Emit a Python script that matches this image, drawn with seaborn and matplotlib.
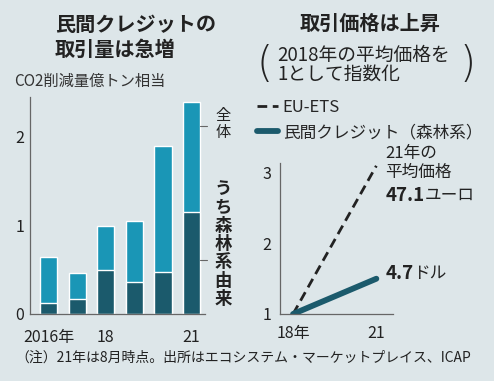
import matplotlib
matplotlib.use("Agg")
import numpy as np
import pandas as pd
import matplotlib.pyplot as plt
import seaborn as sns

# left chart: transaction volume (100 million t-CO2)
years = ["2016", "2017", "2018", "2019", "2020", "2021"]
year_labels = ["2016年", "", "18", "", "", "21"]
total = [0.64, 0.46, 0.99, 1.05, 1.89, 2.38]
forest = [0.12, 0.17, 0.50, 0.36, 0.47, 1.15]

# right chart: price index (2018 = 1)
price_years = [2018, 2021]
price_labels = ["18年", "21"]
eu_ets = [1.0, 3.1]
forest_credit = [1.0, 1.5]

bg = "#dde6e9"
light = "#1a96b6"
dark = "#1b5a6c"
ink = "#222222"
axc = "#666666"

sns.set_style("white")
plt.rcParams["font.family"] = ["Noto Sans CJK JP", "DejaVu Sans"]

fig = plt.figure(figsize=(4.94, 3.81), dpi=100, facecolor=bg)

def px(l, t, r, b):
    return [l / 494, 1 - b / 381, (r - l) / 494, (b - t) / 381]

def fx(x):
    return x / 494

def fy(y):
    return 1 - y / 381

# ---- left: stacked-look bars
ax1 = fig.add_axes(px(30, 97, 205, 314))
ax1.set_facecolor(bg)
df = pd.DataFrame({"year": years, "total": total, "forest": forest})
sns.barplot(data=df, x="year", y="total", color=light, width=0.6,
            saturation=1, errorbar=None, ax=ax1)
sns.barplot(data=df, x="year", y="forest", color=dark, width=0.6,
            saturation=1, errorbar=None, ax=ax1)
ax1.set_xlim(-0.65, 5.47)
ax1.set_ylim(0, 2.44)
ax1.set_yticks([0, 1, 2])
ax1.set_xticks(range(len(years)))
ax1.set_xticklabels(year_labels)
ax1.set_xlabel("")
ax1.set_ylabel("")
for s in ["top", "right"]:
    ax1.spines[s].set_visible(False)
for s in ["left", "bottom"]:
    ax1.spines[s].set_color(axc)
    ax1.spines[s].set_linewidth(0.9)
ax1.tick_params(axis="y", direction="in", length=5, width=0.8, color=axc,
                labelsize=11.5, labelcolor=ink, pad=4)
ax1.tick_params(axis="x", length=0, labelsize=11.5, labelcolor=ink, pad=11)

# bracket ticks for the side labels
ax1.plot([5.3, 5.55], [2.11, 2.11], color=axc, lw=0.8, clip_on=False)
ax1.plot([5.3, 5.55], [0.61, 0.61], color=axc, lw=0.8, clip_on=False)
fig.text(fx(223), fy(124), "\n".join("全体"), fontsize=11, color=ink,
         ha="center", va="center", linespacing=1.0)
fig.text(fx(223), fy(244), "\n".join("うち森林系由来"), fontsize=12.5,
         fontweight="bold", color=ink, ha="center", va="center",
         linespacing=1.02)

fig.text(fx(55), fy(24), "民間クレジットの", fontsize=14.5,
         fontweight="bold", color=ink, ha="left", va="center")
fig.text(fx(55), fy(49), "取引量は急増", fontsize=14.5,
         fontweight="bold", color=ink, ha="left", va="center")
fig.text(fx(14), fy(81), "CO2削減量億トン相当", fontsize=11,
         color="#333333", ha="left", va="center")

# ---- right: price index lines
ax2 = fig.add_axes(px(280, 163, 393, 314))
ax2.set_facecolor(bg)
sns.lineplot(x=price_years, y=eu_ets, ax=ax2, color=ink, lw=2,
             linestyle=(0, (3.5, 2)), label="EU-ETS")
sns.lineplot(x=price_years, y=forest_credit, ax=ax2, color=dark, lw=4.2,
             solid_capstyle="round", label="民間クレジット（森林系）")
ax2.set_xlim(2017.53, 2021.6)
ax2.set_ylim(1, 3.14)
ax2.set_yticks([1, 2, 3])
ax2.set_xticks(price_years)
ax2.set_xticklabels(price_labels)
for s in ["top", "right"]:
    ax2.spines[s].set_visible(False)
for s in ["left", "bottom"]:
    ax2.spines[s].set_color(axc)
    ax2.spines[s].set_linewidth(0.9)
ax2.tick_params(axis="y", direction="in", length=7, width=0.8, color=axc,
                labelsize=11.5, labelcolor=ink, pad=6)
ax2.tick_params(axis="x", direction="out", length=5, width=0.8, color=axc,
                labelsize=11.5, labelcolor=ink, pad=3)

ax2.legend(loc="upper left", bbox_to_anchor=(fx(257), fy(99)),
           bbox_transform=fig.transFigure, frameon=False, fontsize=12,
           handlelength=1.25, handletextpad=0.3, labelspacing=0.5,
           borderpad=0, borderaxespad=0)

xa = price_years[1] + 0.32
ax2.text(xa, eu_ets[1] + 0.18, "21年の", fontsize=12, color=ink,
         ha="left", va="center")
ax2.text(xa, eu_ets[1] - 0.09, "平均価格", fontsize=12, color=ink,
         ha="left", va="center")
t1 = ax2.text(xa, eu_ets[1] - 0.42, "47.1", fontsize=13.5,
              fontweight="bold", color=ink, ha="left", va="center")
ax2.annotate("ユーロ", xy=(1, 0.5), xycoords=t1, fontsize=12, color=ink,
             ha="left", va="center")
t2 = ax2.text(xa, forest_credit[1] + 0.08, "4.7", fontsize=13.5,
              fontweight="bold", color=ink, ha="left", va="center")
ax2.annotate("ドル", xy=(1, 0.5), xycoords=t2, fontsize=12, color=ink,
             ha="left", va="center")

fig.text(fx(370), fy(23), "取引価格は上昇", fontsize=14.5,
         fontweight="bold", color=ink, ha="center", va="center")
fig.text(fx(277), fy(55), "2018年の平均価格を", fontsize=13.5,
         color=ink, ha="left", va="center")
fig.text(fx(277), fy(74), "1として指数化", fontsize=13.5,
         color=ink, ha="left", va="center")
fig.text(fx(265), fy(65), "(", fontsize=30, color=ink, ha="center",
         va="center", fontweight="light", family="DejaVu Sans")
fig.text(fx(468), fy(65), ")", fontsize=30, color=ink, ha="center",
         va="center", fontweight="light", family="DejaVu Sans")

fig.text(fx(15), fy(358), "（注）21年は8月時点。出所はエコシステム・マーケットプレイス、ICAP",
         fontsize=10, color=ink, ha="left", va="center")

fig.savefig("out.png", dpi=100, facecolor=bg)
